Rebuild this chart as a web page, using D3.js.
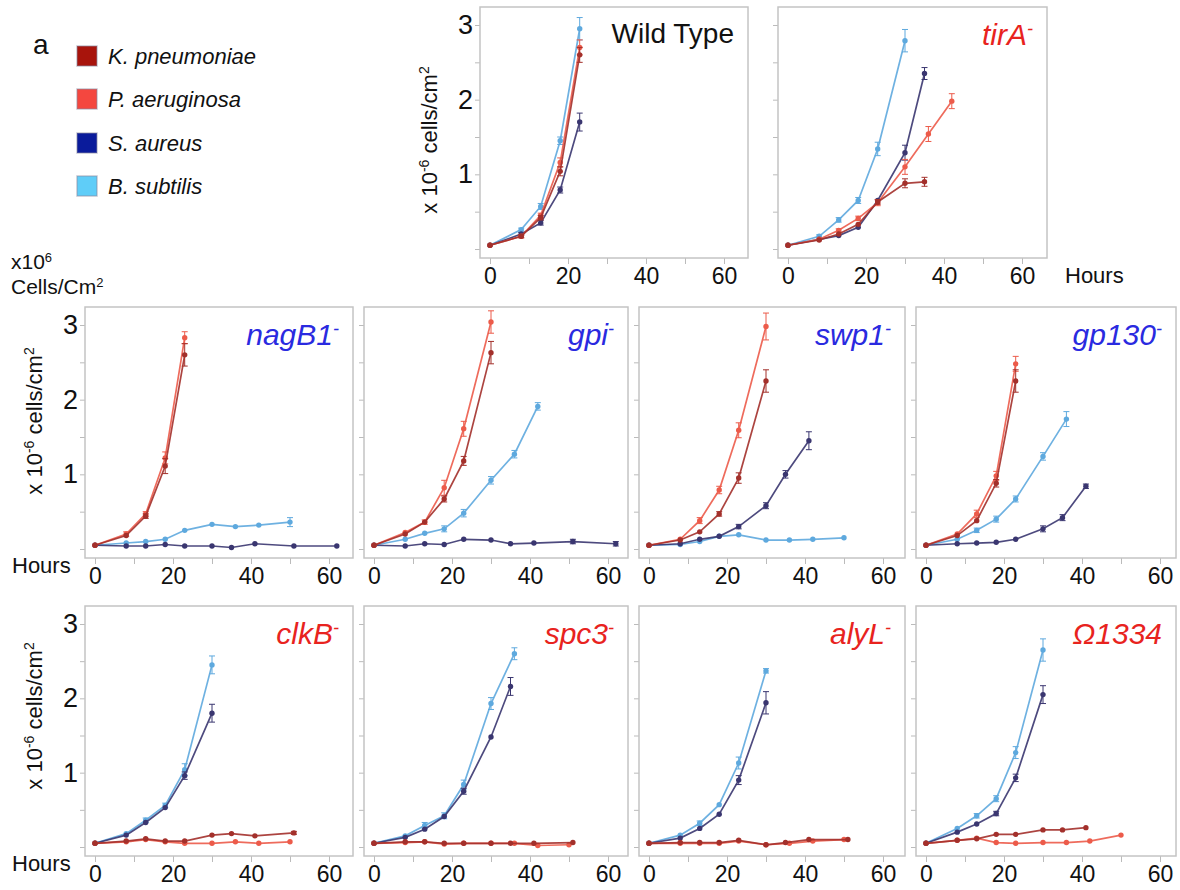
<!DOCTYPE html>
<html>
<head>
<meta charset="utf-8">
<script src="https://cdn.jsdelivr.net/npm/d3@7"></script>
<style>
  body { margin: 0; background: #fff; }
  text { font-family: "Liberation Sans", Arial, sans-serif; }
</style>
</head>
<body>
<svg width="1180" height="890"></svg>
<script>
// strains, in legend order
var strains = ["K. pneumoniae", "P. aeruginosa", "S. aureus", "B. subtilis"];
var legendColors = ["#a8140c", "#f4473f", "#0a1b9b", "#5fcdf8"];
var lineColors = ["#a3302b", "#ec5b4a", "#3a3670", "#5ea9de"];

var xTicks = [0, 10, 20, 30, 40, 50, 60];
var xLabels = [0, 20, 40, 60];
var yTicks = [0, 0.5, 1, 1.5, 2, 2.5, 3];
var yLabels = [1, 2, 3];

// each panel: [kpn, pae, sau, bsu], points are [hours, cells x10^6, error]
var wildType = [
  [[0,.05],[8,.17,.02],[13,.42,.03],[18,1.04,.06],[23,2.6,.1]],
  [[0,.05],[8,.17,.02],[13,.45,.03],[18,1.16,.06],[23,2.7,.1]],
  [[0,.05],[8,.2,.02],[13,.35,.03],[18,.79,.04],[23,1.7,.12]],
  [[0,.05],[8,.26,.02],[13,.57,.04],[18,1.45,.05],[23,2.95,.15]]
];
var tirA = [
  [[0,.05],[8,.12],[13,.2],[18,.33],[23,.63,.03],[30,.88,.06],[35,.9,.06]],
  [[0,.05],[8,.13],[13,.25,.02],[18,.41,.03],[23,.62,.04],[30,1.1,.1],[36,1.54,.1],[42,1.98,.1]],
  [[0,.05],[8,.13],[13,.18],[18,.29],[23,.65],[30,1.29,.1],[35,2.35,.08]],
  [[0,.05],[8,.17,.02],[13,.39,.03],[18,.65,.04],[23,1.34,.09],[30,2.79,.15]]
];
var nagB1 = [
  [[0,.05],[8,.18],[13,.44,.03],[18,1.11,.1],[23,2.6,.15]],
  [[0,.05],[8,.2,.03],[13,.47,.03],[18,1.22,.08],[23,2.83,.08]],
  [[0,.05],[8,.04],[13,.04],[18,.06],[23,.04],[30,.04],[35,.02],[41,.07],[51,.04],[62,.04]],
  [[0,.05],[8,.08],[13,.1],[18,.13],[23,.25],[30,.33],[36,.3],[42,.32],[50,.36,.06]]
];
var gpi = [
  [[0,.05],[8,.2],[13,.36],[18,.67,.04],[23,1.18,.06],[30,2.63,.15]],
  [[0,.05],[8,.22],[13,.36,.03],[18,.82,.1],[23,1.61,.1],[30,3.04,.15]],
  [[0,.05],[8,.04],[13,.07],[18,.06],[23,.13],[30,.12],[35,.07],[41,.08],[51,.1,.03],[62,.07,.03]],
  [[0,.05],[8,.13],[13,.21],[18,.27,.04],[23,.48,.05],[30,.92,.05],[36,1.27,.05],[42,1.91,.05]]
];
var swp1 = [
  [[0,.05],[8,.12],[13,.23],[18,.47,.03],[23,.95,.07],[30,2.25,.15]],
  [[0,.05],[8,.13],[13,.38,.04],[18,.79,.05],[23,1.59,.1],[30,2.98,.18]],
  [[0,.05],[8,.07],[13,.13],[18,.17],[23,.3,.03],[30,.58,.04],[35,1.0,.05],[41,1.45,.12]],
  [[0,.05],[8,.06],[13,.1],[18,.17],[23,.19],[30,.12],[36,.12],[42,.13],[50,.15]]
];
var gp130 = [
  [[0,.05],[8,.18],[13,.38],[18,.88,.05],[23,2.25,.15]],
  [[0,.05],[8,.2],[13,.47,.05],[18,.98,.06],[23,2.48,.1]],
  [[0,.05],[8,.07],[13,.08],[18,.09],[23,.13],[30,.27,.04],[35,.42,.04],[41,.84,.03]],
  [[0,.05],[8,.13],[13,.25,.03],[18,.4,.04],[23,.67,.04],[30,1.24,.05],[36,1.74,.1]]
];
var clkB = [
  [[0,.05],[8,.08],[13,.11],[18,.08],[23,.08],[30,.16],[35,.18],[41,.15],[51,.19,.02]],
  [[0,.05],[8,.07],[13,.1],[18,.07],[23,.05],[30,.05],[36,.07],[42,.05],[50,.07]],
  [[0,.05],[8,.16],[13,.33],[18,.53],[23,.96,.05],[30,1.8,.12]],
  [[0,.05],[8,.18],[13,.36,.03],[18,.56,.03],[23,1.04,.08],[30,2.45,.12]]
];
var spc3 = [
  [[0,.05],[8,.07],[13,.07],[18,.05],[23,.05],[30,.05],[35,.05],[41,.05],[51,.06]],
  [[0,.05],[8,.06],[13,.07],[18,.04],[23,.05],[30,.05],[36,.05],[42,.02],[50,.03]],
  [[0,.05],[8,.13],[13,.24],[18,.41],[23,.75,.04],[30,1.48],[35,2.16,.12]],
  [[0,.05],[8,.15],[13,.29,.04],[18,.42,.04],[23,.84,.06],[30,1.93,.08],[36,2.6,.08]]
];
var alyL = [
  [[0,.05],[8,.06],[13,.06],[18,.06],[23,.09],[30,.03],[35,.06],[41,.1],[51,.1]],
  [[0,.05],[8,.05],[13,.05],[18,.05],[23,.08],[30,.03],[36,.05],[42,.08],[50,.1]],
  [[0,.05],[8,.12],[13,.25],[18,.44],[23,.9,.06],[30,1.94,.15]],
  [[0,.05],[8,.16],[13,.32,.03],[18,.57],[23,1.13,.08],[30,2.37,.03]]
];
var omega1334 = [
  [[0,.05],[8,.09],[13,.11],[18,.17],[23,.17],[30,.23],[35,.23],[41,.26]],
  [[0,.05],[8,.09],[13,.12],[18,.06],[23,.05],[30,.06],[36,.06],[42,.08],[50,.16]],
  [[0,.05],[8,.2],[13,.31],[18,.45,.03],[23,.93,.05],[30,2.05,.12]],
  [[0,.05],[8,.25],[13,.42,.03],[18,.65,.04],[23,1.27,.08],[30,2.65,.15]]
];

var svg = d3.select("svg");

// panel frames; labY is where the rotated y title is centred (first panel of a row only)
var panels = [
  {name: "Wild Type", sup: "", color: "#111", italic: false, data: wildType, x: 480, y: 7, w: 268, h: 251, labX: 437, labY: 140},
  {name: "tirA", sup: "-", color: "#e8231e", italic: true, data: tirA, x: 778, y: 7, w: 269, h: 251},
  {name: "nagB1", sup: "-", color: "#2a2ae0", italic: true, data: nagB1, x: 85, y: 307, w: 268, h: 251, labX: 42, labY: 421},
  {name: "gpi", sup: "-", color: "#2a2ae0", italic: true, data: gpi, x: 364, y: 307, w: 264, h: 251},
  {name: "swp1", sup: "-", color: "#2a2ae0", italic: true, data: swp1, x: 639, y: 307, w: 266, h: 251},
  {name: "gp130", sup: "-", color: "#2a2ae0", italic: true, data: gp130, x: 916, y: 307, w: 260, h: 251},
  {name: "clkB", sup: "-", color: "#e8231e", italic: true, data: clkB, x: 85, y: 606, w: 268, h: 250, labX: 42, labY: 716},
  {name: "spc3", sup: "-", color: "#e8231e", italic: true, data: spc3, x: 364, y: 606, w: 264, h: 250},
  {name: "alyL", sup: "-", color: "#e8231e", italic: true, data: alyL, x: 639, y: 606, w: 266, h: 250},
  {name: "\u03A91334", sup: "", color: "#e8231e", italic: true, data: omega1334, x: 916, y: 606, w: 260, h: 250}
];

var drawOrder = [3, 2, 1, 0];

panels.forEach(function(p) {
  var yLab = p.labX !== undefined;
  var x = d3.scaleLinear().domain([0, 60]).range([p.x + 10, p.x + 244]);
  var y = d3.scaleLinear().domain([0, 3]).range([p.y + p.h - 9, p.y + 18]);

  var g = svg.append("g");

  // x axis
  var xa = g.append("g")
      .attr("transform", "translate(0," + (p.y + p.h) + ")")
      .call(d3.axisBottom(x).tickValues(xTicks).tickSize(6).tickPadding(4)
        .tickFormat(function(d) { return xLabels.indexOf(d) >= 0 ? d : ""; }));
  xa.select(".domain").remove();
  xa.selectAll("line").attr("stroke", "#bbb");
  xa.selectAll("text").attr("font-size", 23).attr("fill", "#111")
    .style("font-family", "'Liberation Sans', Arial, sans-serif");

  // y axis
  var ya = g.append("g")
      .attr("transform", "translate(" + p.x + ",0)")
      .call(d3.axisLeft(y).tickValues(yTicks).tickSize(5).tickPadding(2)
        .tickFormat(function(d) { return yLab && yLabels.indexOf(d) >= 0 ? d : ""; }));
  ya.select(".domain").remove();
  ya.selectAll("line").attr("stroke", "#bbb");
  ya.selectAll("text").attr("font-size", 27).attr("fill", "#111")
    .style("font-family", "'Liberation Sans', Arial, sans-serif");

  // frame
  g.append("rect")
    .attr("x", p.x).attr("y", p.y).attr("width", p.w).attr("height", p.h)
    .attr("fill", "none").attr("stroke", "#c4c4c4").attr("stroke-width", 1.5);

  var line = d3.line()
    .x(function(d) { return x(d[0]); })
    .y(function(d) { return y(d[1]); });

  drawOrder.forEach(function(si) {
    var pts = p.data[si];
    var c = lineColors[si];
    var sg = g.append("g");
    sg.append("path").datum(pts)
      .attr("d", line).attr("fill", "none")
      .attr("stroke", c).attr("stroke-width", 1.7).attr("stroke-opacity", 0.9);

    var eb = sg.selectAll(".eb").data(pts.filter(function(d) { return d[2]; }))
      .enter().append("g");
    eb.append("line")
      .attr("x1", function(d) { return x(d[0]); }).attr("x2", function(d) { return x(d[0]); })
      .attr("y1", function(d) { return y(d[1] - d[2]); }).attr("y2", function(d) { return y(d[1] + d[2]); })
      .attr("stroke", c).attr("stroke-width", 1);
    [-1, 1].forEach(function(s) {
      eb.append("line")
        .attr("x1", function(d) { return x(d[0]) - 3; }).attr("x2", function(d) { return x(d[0]) + 3; })
        .attr("y1", function(d) { return y(d[1] + s * d[2]); }).attr("y2", function(d) { return y(d[1] + s * d[2]); })
        .attr("stroke", c).attr("stroke-width", 1);
    });

    sg.selectAll("circle").data(pts).enter().append("circle")
      .attr("cx", function(d) { return x(d[0]); })
      .attr("cy", function(d) { return y(d[1]); })
      .attr("r", 2.7).attr("fill", c);
  });

  // panel title
  var t = g.append("text")
    .attr("x", p.x + p.w - 14).attr("y", p.y + (p.italic ? 38 : 36))
    .attr("text-anchor", "end").attr("font-size", p.italic ? 30 : 28)
    .attr("fill", p.color)
    .attr("font-style", p.italic ? "italic" : "normal")
    .text(p.name);
  if (p.sup) {
    t.append("tspan").attr("baseline-shift", "super").attr("font-size", 18).text(p.sup);
  }

  // y axis title
  if (yLab) {
    var yt = svg.append("text")
      .attr("transform", "translate(" + p.labX + "," + p.labY + ") rotate(-90)")
      .attr("text-anchor", "middle").attr("font-size", 22).attr("fill", "#111");
    yt.append("tspan").text("x 10");
    yt.append("tspan").attr("baseline-shift", "super").attr("font-size", 14).text("-6");
    yt.append("tspan").text(" cells/cm");
    yt.append("tspan").attr("baseline-shift", "super").attr("font-size", 14).text("2");
  }
});

// "Hours" labels
[[12, 573], [12, 871]].forEach(function(pos) {
  svg.append("text").attr("x", pos[0]).attr("y", pos[1])
    .attr("font-size", 22).attr("fill", "#111").text("Hours");
});
svg.append("text").attr("x", 1065).attr("y", 283)
  .attr("font-size", 22).attr("fill", "#111").text("Hours");

// left unit label
var u1 = svg.append("text").attr("x", 11).attr("y", 269).attr("font-size", 21).attr("fill", "#111");
u1.append("tspan").text("x10");
u1.append("tspan").attr("baseline-shift", "super").attr("font-size", 13).text("6");
var u2 = svg.append("text").attr("x", 11).attr("y", 294).attr("font-size", 21).attr("fill", "#111");
u2.append("tspan").text("Cells/Cm");
u2.append("tspan").attr("baseline-shift", "super").attr("font-size", 13).text("2");

// panel letter and legend
svg.append("text").attr("x", 33).attr("y", 54).attr("font-size", 28).attr("fill", "#111").text("a");

var legendY = [56, 99, 143, 186];
var leg = svg.append("g").selectAll("g").data(strains).enter().append("g")
  .attr("transform", function(d, i) { return "translate(77," + legendY[i] + ")"; });
leg.append("rect")
  .attr("x", 0).attr("y", -10).attr("width", 20).attr("height", 20)
  .attr("fill", function(d, i) { return legendColors[i]; })
  .attr("stroke", "#8a8aa0").attr("stroke-opacity", 0.5).attr("stroke-width", 1.5);
leg.append("text")
  .attr("x", 31).attr("y", 8)
  .attr("font-size", 22).attr("font-style", "italic").attr("fill", "#111")
  .text(function(d) { return d; });
</script>
</body>
</html>
